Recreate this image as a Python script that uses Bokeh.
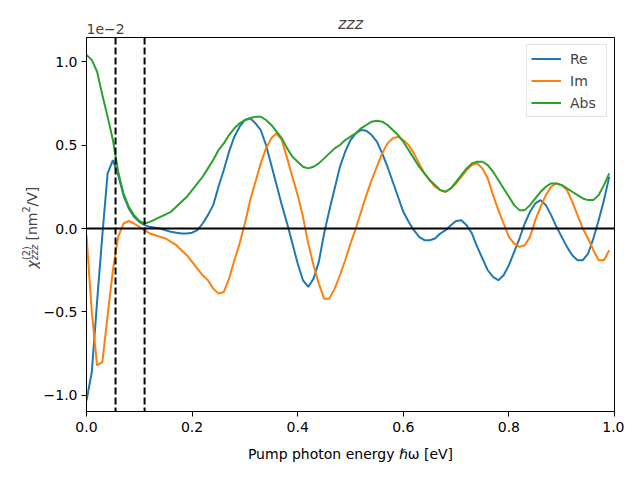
import math
from bokeh.plotting import figure
from bokeh.layouts import column, row
from bokeh.models import Span, Label, Legend, LegendItem, FixedTicker, Range1d
from bokeh.embed import file_html
from bokeh.resources import INLINE

# photon energy grid [eV]
energy = [0.00, 0.01, 0.02, 0.03, 0.04, 0.05, 0.06, 0.07, 0.08, 0.09,
          0.10, 0.11, 0.12, 0.13, 0.14, 0.15, 0.16, 0.17, 0.18, 0.19,
          0.20, 0.21, 0.22, 0.23, 0.24, 0.25, 0.26, 0.27, 0.28, 0.29,
          0.30, 0.31, 0.32, 0.33, 0.34, 0.35, 0.36, 0.37, 0.38, 0.39,
          0.40, 0.41, 0.42, 0.43, 0.44, 0.45, 0.46, 0.47, 0.48, 0.49,
          0.50, 0.51, 0.52, 0.53, 0.54, 0.55, 0.56, 0.57, 0.58, 0.59,
          0.60, 0.61, 0.62, 0.63, 0.64, 0.65, 0.66, 0.67, 0.68, 0.69,
          0.70, 0.71, 0.72, 0.73, 0.74, 0.75, 0.76, 0.77, 0.78, 0.79,
          0.80, 0.81, 0.82, 0.83, 0.84, 0.85, 0.86, 0.87, 0.88, 0.89,
          0.90, 0.91, 0.92, 0.93, 0.94, 0.95, 0.96, 0.97, 0.98, 0.99]

# chi^(2)_zzz in units of 1e-2 nm^2/V
chi_re = [-1.03, -0.86, -0.44, -0.04, 0.33, 0.41, 0.32, 0.20, 0.12, 0.07,
          0.04, 0.02, 0.01, 0.005, 0.0, -0.01, -0.02, -0.025, -0.03, -0.03,
          -0.025, -0.01, 0.03, 0.08, 0.14, 0.25, 0.35, 0.46, 0.55, 0.61,
          0.65, 0.66, 0.63, 0.59, 0.50, 0.38, 0.26, 0.14, 0.03, -0.09,
          -0.21, -0.31, -0.35, -0.30, -0.20, -0.03, 0.11, 0.24, 0.37, 0.46,
          0.53, 0.57, 0.59, 0.585, 0.56, 0.52, 0.45, 0.37, 0.28, 0.19,
          0.10, 0.04, -0.01, -0.05, -0.07, -0.07, -0.06, -0.03, -0.01, 0.02,
          0.045, 0.05, 0.02, -0.03, -0.11, -0.18, -0.25, -0.29, -0.31, -0.28,
          -0.22, -0.14, -0.06, 0.03, 0.10, 0.15, 0.17, 0.14, 0.08, 0.01,
          -0.05, -0.11, -0.16, -0.19, -0.19, -0.15, -0.06, 0.05, 0.17, 0.31]

chi_im = [-0.04, -0.50, -0.82, -0.80, -0.52, -0.25, -0.05, 0.03, 0.045, 0.03,
          0.01, -0.01, -0.03, -0.04, -0.05, -0.06, -0.08, -0.10, -0.13, -0.16,
          -0.20, -0.24, -0.28, -0.31, -0.36, -0.39, -0.38, -0.30, -0.19, -0.09,
          0.03, 0.17, 0.28, 0.39, 0.48, 0.54, 0.57, 0.53, 0.42, 0.31,
          0.20, 0.07, -0.09, -0.22, -0.33, -0.42, -0.42, -0.36, -0.28, -0.19,
          -0.09, 0.0, 0.10, 0.20, 0.29, 0.37, 0.45, 0.51, 0.54, 0.55,
          0.53, 0.50, 0.45, 0.39, 0.33, 0.29, 0.25, 0.23, 0.22, 0.24,
          0.27, 0.31, 0.35, 0.38, 0.39, 0.36, 0.30, 0.20, 0.11, 0.03,
          -0.05, -0.09, -0.11, -0.10, -0.05, 0.05, 0.13, 0.20, 0.25, 0.27,
          0.26, 0.23, 0.16, 0.08, 0.0, -0.06, -0.13, -0.19, -0.19, -0.13]

chi_abs = [1.04, 1.01, 0.94, 0.80, 0.67, 0.53, 0.34, 0.21, 0.13, 0.08,
           0.045, 0.03, 0.04, 0.055, 0.07, 0.085, 0.10, 0.13, 0.16, 0.19,
           0.23, 0.27, 0.31, 0.36, 0.41, 0.47, 0.51, 0.56, 0.60, 0.63,
           0.65, 0.66, 0.67, 0.67, 0.65, 0.62, 0.58, 0.54, 0.48, 0.43,
           0.40, 0.37, 0.36, 0.37, 0.39, 0.42, 0.45, 0.48, 0.50, 0.53,
           0.55, 0.57, 0.60, 0.62, 0.64, 0.645, 0.64, 0.62, 0.59, 0.56,
           0.52, 0.47, 0.42, 0.37, 0.33, 0.29, 0.26, 0.23, 0.22, 0.24,
           0.28, 0.32, 0.36, 0.39, 0.40, 0.40, 0.38, 0.34, 0.29, 0.24,
           0.19, 0.14, 0.11, 0.11, 0.14, 0.18, 0.22, 0.25, 0.27, 0.27,
           0.26, 0.24, 0.22, 0.20, 0.18, 0.17, 0.17, 0.20, 0.26, 0.33]

vlines = [0.055, 0.11]
x_ticks = [0.0, 0.2, 0.4, 0.6, 0.8, 1.0]
y_ticks = [-1.0, -0.5, 0.0, 0.5, 1.0]

FONT = "DejaVu Sans"
W, H = 624, 464
TOP_H = 37          # strip above the plot frame
LEFT_W = 40         # strip left of the y axis
FRAME_LEFT = 86     # frame left edge on the page
RIGHT, BOTTOM = 10, 53
MAIN_W = W - LEFT_W
MAIN_H = H - TOP_H
FRAME_BOTTOM = H - BOTTOM   # page y of the frame's bottom edge
SHIFT = 5           # empirical baseline correction


def strip(width, height, **kw):
    f = figure(width=width, height=height, output_backend="svg", toolbar_location=None,
               x_axis_type=None, y_axis_type=None,
               x_range=Range1d(0, 1), y_range=Range1d(0, 1),
               min_border=0, **kw)
    f.outline_line_color = None
    f.background_fill_color = "white"
    f.border_fill_color = "white"
    return f


# ---------- main plot ----------
p = figure(width=MAIN_W, height=MAIN_H, output_backend="svg", toolbar_location=None,
           x_range=Range1d(0.0, 1.0), y_range=Range1d(-1.096, 1.144),
           min_border_left=FRAME_LEFT - LEFT_W, min_border_right=RIGHT,
           min_border_top=0, min_border_bottom=BOTTOM)
p.background_fill_color = "white"
p.border_fill_color = "white"
p.outline_line_color = "black"
p.outline_line_width = 1
p.xgrid.visible = False
p.ygrid.visible = False

for ax in (p.xaxis[0], p.yaxis[0]):
    ax.major_label_text_font = FONT
    ax.major_label_text_font_size = "14px"
    ax.major_label_text_color = "black"
    ax.major_tick_out = 5
    ax.major_tick_in = 0
    ax.minor_tick_out = 0
    ax.minor_tick_in = 0
    ax.axis_line_color = "black"
    ax.major_tick_line_color = "black"
p.xaxis.major_label_standoff = 5
p.yaxis.major_label_standoff = 4

p.xaxis.ticker = FixedTicker(ticks=x_ticks)
p.yaxis.ticker = FixedTicker(ticks=y_ticks)
p.xaxis.major_label_overrides = {t: f"{t:.1f}" for t in x_ticks}
p.yaxis.major_label_overrides = {t: f"{t:.1f}".replace("-", "\u2212") for t in y_ticks}

p.xaxis.axis_label = "Pump photon energy \u210f\u03c9 [eV]"
p.xaxis.axis_label_text_font = FONT
p.xaxis.axis_label_text_font_size = "14px"
p.xaxis.axis_label_text_font_style = "normal"
p.xaxis.axis_label_text_color = "black"
p.xaxis.axis_label_standoff = 11

p.add_layout(Span(location=0.0, dimension="width", line_color="black", line_width=2))
for v in vlines:
    p.add_layout(Span(location=v, dimension="height", line_color="black",
                      line_width=2, line_dash="7 3"))

r_re = p.line(energy, chi_re, line_color="#1f77b4", line_width=2)
r_im = p.line(energy, chi_im, line_color="#ff7f0e", line_width=2)
r_abs = p.line(energy, chi_abs, line_color="#2ca02c", line_width=2)

legend = Legend(items=[LegendItem(label="Re", renderers=[r_re]),
                       LegendItem(label="Im", renderers=[r_im]),
                       LegendItem(label="Abs", renderers=[r_abs])],
                location="top_right")
legend.label_text_font = FONT
legend.label_text_font_size = "14px"
legend.glyph_width = 30
legend.glyph_height = 19
legend.label_height = 19
legend.spacing = 3
legend.padding = 4
legend.margin = 7
legend.label_standoff = 9
legend.label_width = 32
legend.border_line_color = "#cccccc"
legend.border_line_width = 1
legend.background_fill_alpha = 0.8
p.add_layout(legend)

# ---------- strip above: title and offset text ----------
top = strip(W, TOP_H)
top.add_layout(Label(x=(FRAME_LEFT + W - RIGHT) / 2, y=TOP_H - 28 + SHIFT,
                     x_units="screen", y_units="screen",
                     text="zzz", text_font=FONT, text_font_style="italic",
                     text_font_size="16px", text_align="center", text_baseline="alphabetic"))
top.add_layout(Label(x=FRAME_LEFT, y=TOP_H - 33 + SHIFT, x_units="screen", y_units="screen",
                     text="1e\u22122", text_font=FONT, text_font_size="14px",
                     text_align="left", text_baseline="alphabetic"))

# ---------- strip left: y axis label (rotated, with sub/superscripts) ----------
# its frame is aligned with the main plot frame (page y TOP_H .. FRAME_BOTTOM)
left = strip(LEFT_W, MAIN_H, min_border_bottom=BOTTOM)


def ly(y_page):
    return FRAME_BOTTOM - y_page


ang = math.pi / 2
bx = 36 - SHIFT
pieces = [
    # text, baseline x, start y on page, size, style
    ("\u03c7", bx, 268, "14px", "italic"),
    ("(2)", bx - 5, 259.5, "9.7px", "normal"),
    ("zzz", bx + 3, 259.5, "9.7px", "italic"),
    ("[nm", bx, 240, "14px", "normal"),
    ("2", bx - 6, 212, "9.7px", "normal"),
    ("/V]", bx, 206, "14px", "normal"),
]
for txt, xx, yy, fs, st in pieces:
    left.add_layout(Label(x=xx, y=ly(yy), x_units="screen", y_units="screen", angle=ang,
                          text=txt, text_font=FONT, text_font_style=st,
                          text_font_size=fs, text_align="left", text_baseline="alphabetic"))

layout = column(top, row(left, p, spacing=0), spacing=0)

open("out.html", "w").write(file_html(layout, INLINE))
